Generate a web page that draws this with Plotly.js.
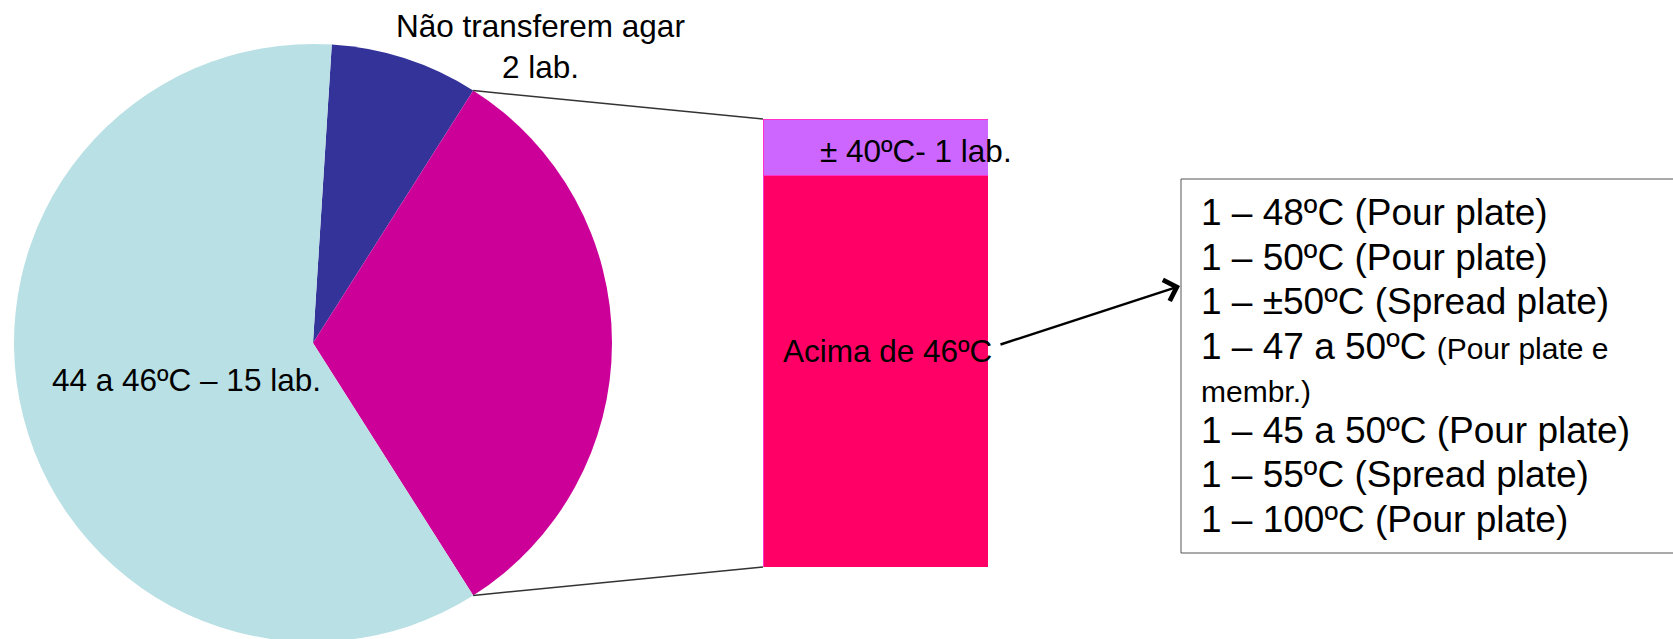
<!DOCTYPE html>
<html>
<head>
<meta charset="utf-8">
<script src="https://cdn.plot.ly/plotly-3.0.1.min.js"></script>
<style>
  html, body { margin: 0; padding: 0; background: #ffffff; overflow: hidden; }
  #chart { width: 1673px; height: 660px; }
</style>
</head>
<body>
<div id="chart"></div>
<script>
// Temperatura do agar na transferência (número de laboratórios)
const pieLabels = ['Não transferem agar', 'Outras temperaturas', '44 a 46ºC'];
const pieColors = ['#333399', '#CC0099', '#B9E0E4'];
const transferNone = 2;
const range4446 = 15;

// Detalhe das "outras temperaturas"
const barLabels = ['Acima de 46ºC', '± 40ºC'];
const barValues = [7, 1];
const barColors = ['#FF0066', '#CC66FF'];

// Temperaturas acima de 46ºC, um laboratório cada
const detailCounts = [1, 1, 1, 1, 1, 1, 1];
const detailTemps = ['48ºC', '50ºC', '±50ºC', '47 a 50ºC', '45 a 50ºC', '55ºC', '100ºC'];
const detailMethods = ['Pour plate', 'Pour plate', 'Spread plate', 'Pour plate e membr.', 'Pour plate', 'Spread plate', 'Pour plate'];

const otherTotal = barValues.reduce((a, b) => a + b, 0);
const pieValues = [transferNone, otherTotal, range4446];
const total = pieValues.reduce((a, b) => a + b, 0);

const W = 1673, H = 660;
const px = x => x / W;
const py = y => 1 - y / H;
const FONT = 'Liberation Sans, Arial, sans-serif';

const pieDomain = { x: [px(14), px(612)], y: [py(642), py(44)] };
const rotation = 3.6;

const pie = {
  type: 'pie',
  labels: pieLabels,
  values: pieValues,
  marker: { colors: pieColors, line: { width: 0 } },
  sort: false,
  direction: 'clockwise',
  rotation: rotation,
  textinfo: 'none',
  hoverinfo: 'label+value',
  showlegend: false,
  domain: pieDomain
};

const bars = barLabels.map((name, i) => ({
  type: 'bar',
  name: name,
  x: ['Outras'],
  y: [barValues[i]],
  xaxis: 'x',
  yaxis: 'y',
  marker: { color: barColors[i], line: { color: '#FF33CC', width: 1 } },
  showlegend: false,
  hoverinfo: 'name+y'
}));

const barX = [px(763), px(988)];
const barY = [py(567), py(119)];

// Connector lines from the edge of the magenta slice to the bar corners
const rPx = Math.min((pieDomain.x[1] - pieDomain.x[0]) * W, (pieDomain.y[1] - pieDomain.y[0]) * H) / 2;
const cxPx = (pieDomain.x[0] + pieDomain.x[1]) / 2 * W;
const cyPx = (1 - (pieDomain.y[0] + pieDomain.y[1]) / 2) * H;
const a0 = (rotation + 360 * transferNone / total) * Math.PI / 180;
const a1 = a0 + 360 * otherTotal / total * Math.PI / 180;
const edge = a => [cxPx + rPx * Math.sin(a), cyPx - rPx * Math.cos(a)];
const e0 = edge(a0), e1 = edge(a1);

const shapes = [
  { type: 'line', xref: 'paper', yref: 'paper', x0: px(e0[0]), y0: py(e0[1]), x1: barX[0], y1: barY[1],
    line: { color: '#333333', width: 1.5 } },
  { type: 'line', xref: 'paper', yref: 'paper', x0: px(e1[0]), y0: py(e1[1]), x1: barX[0], y1: barY[0],
    line: { color: '#333333', width: 1.5 } },
  { type: 'rect', xref: 'paper', yref: 'paper', x0: px(1181), x1: px(1700), y0: py(553), y1: py(179),
    line: { color: '#555555', width: 1 }, fillcolor: 'rgba(0,0,0,0)' }
];

const txt = (text, x, y, size, xanchor) => ({
  text: text, xref: 'paper', yref: 'paper', x: px(x), y: py(y),
  xanchor: xanchor || 'left', yanchor: 'middle', showarrow: false,
  font: { family: FONT, size: size, color: '#000000' }, align: xanchor === 'center' ? 'center' : 'left'
});

const annotations = [
  txt(pieLabels[0] + '<br>' + transferNone + ' lab.', 540, 47, 31.5, 'center'),
  txt(pieLabels[2] + ' – ' + range4446 + ' lab.', 50, 380, 31.5),
  txt(barLabels[1] + '- ' + barValues[1] + ' lab.', 818, 151, 31.5),
  txt(barLabels[0], 781, 351, 31.5),
  {
    text: '', xref: 'paper', yref: 'paper', x: px(1180), y: py(286),
    showarrow: true, arrowhead: 4, arrowsize: 1.7, arrowwidth: 2.5, arrowcolor: '#000000',
    ax: 999 - 1180, ay: 345 - 286, axref: 'pixel', ayref: 'pixel'
  }
];

// Lines of the detail box
const lineY = [212, 257, 301, 346, 391, 430, 474, 519];
let row = 0;
detailTemps.forEach((t, i) => {
  const head = detailCounts[i] + ' – ' + t + ' ';
  if (detailMethods[i].indexOf(' e ') > 0) {
    const parts = detailMethods[i].split(' e ');
    annotations.push(txt(head + '<span style="font-size:30px">(' + parts[0] + ' e</span>', 1199, lineY[row++], 37));
    annotations.push(txt(parts[1] + ')', 1199, lineY[row++], 30));
  } else {
    annotations.push(txt(head + '(' + detailMethods[i] + ')', 1199, lineY[row++], 37));
  }
});

const layout = {
  width: W, height: H,
  margin: { l: 0, r: 0, t: 0, b: 0, pad: 0 },
  paper_bgcolor: '#ffffff', plot_bgcolor: 'rgba(0,0,0,0)',
  barmode: 'stack', bargap: 0,
  xaxis: { domain: barX, range: [-0.5, 0.5], visible: false, fixedrange: true },
  yaxis: { domain: barY, range: [0, otherTotal], visible: false, fixedrange: true },
  font: { family: FONT },
  shapes: shapes,
  annotations: annotations,
  showlegend: false
};

Plotly.newPlot('chart', [pie].concat(bars), layout, { displayModeBar: false, staticPlot: true });
</script>
</body>
</html>
